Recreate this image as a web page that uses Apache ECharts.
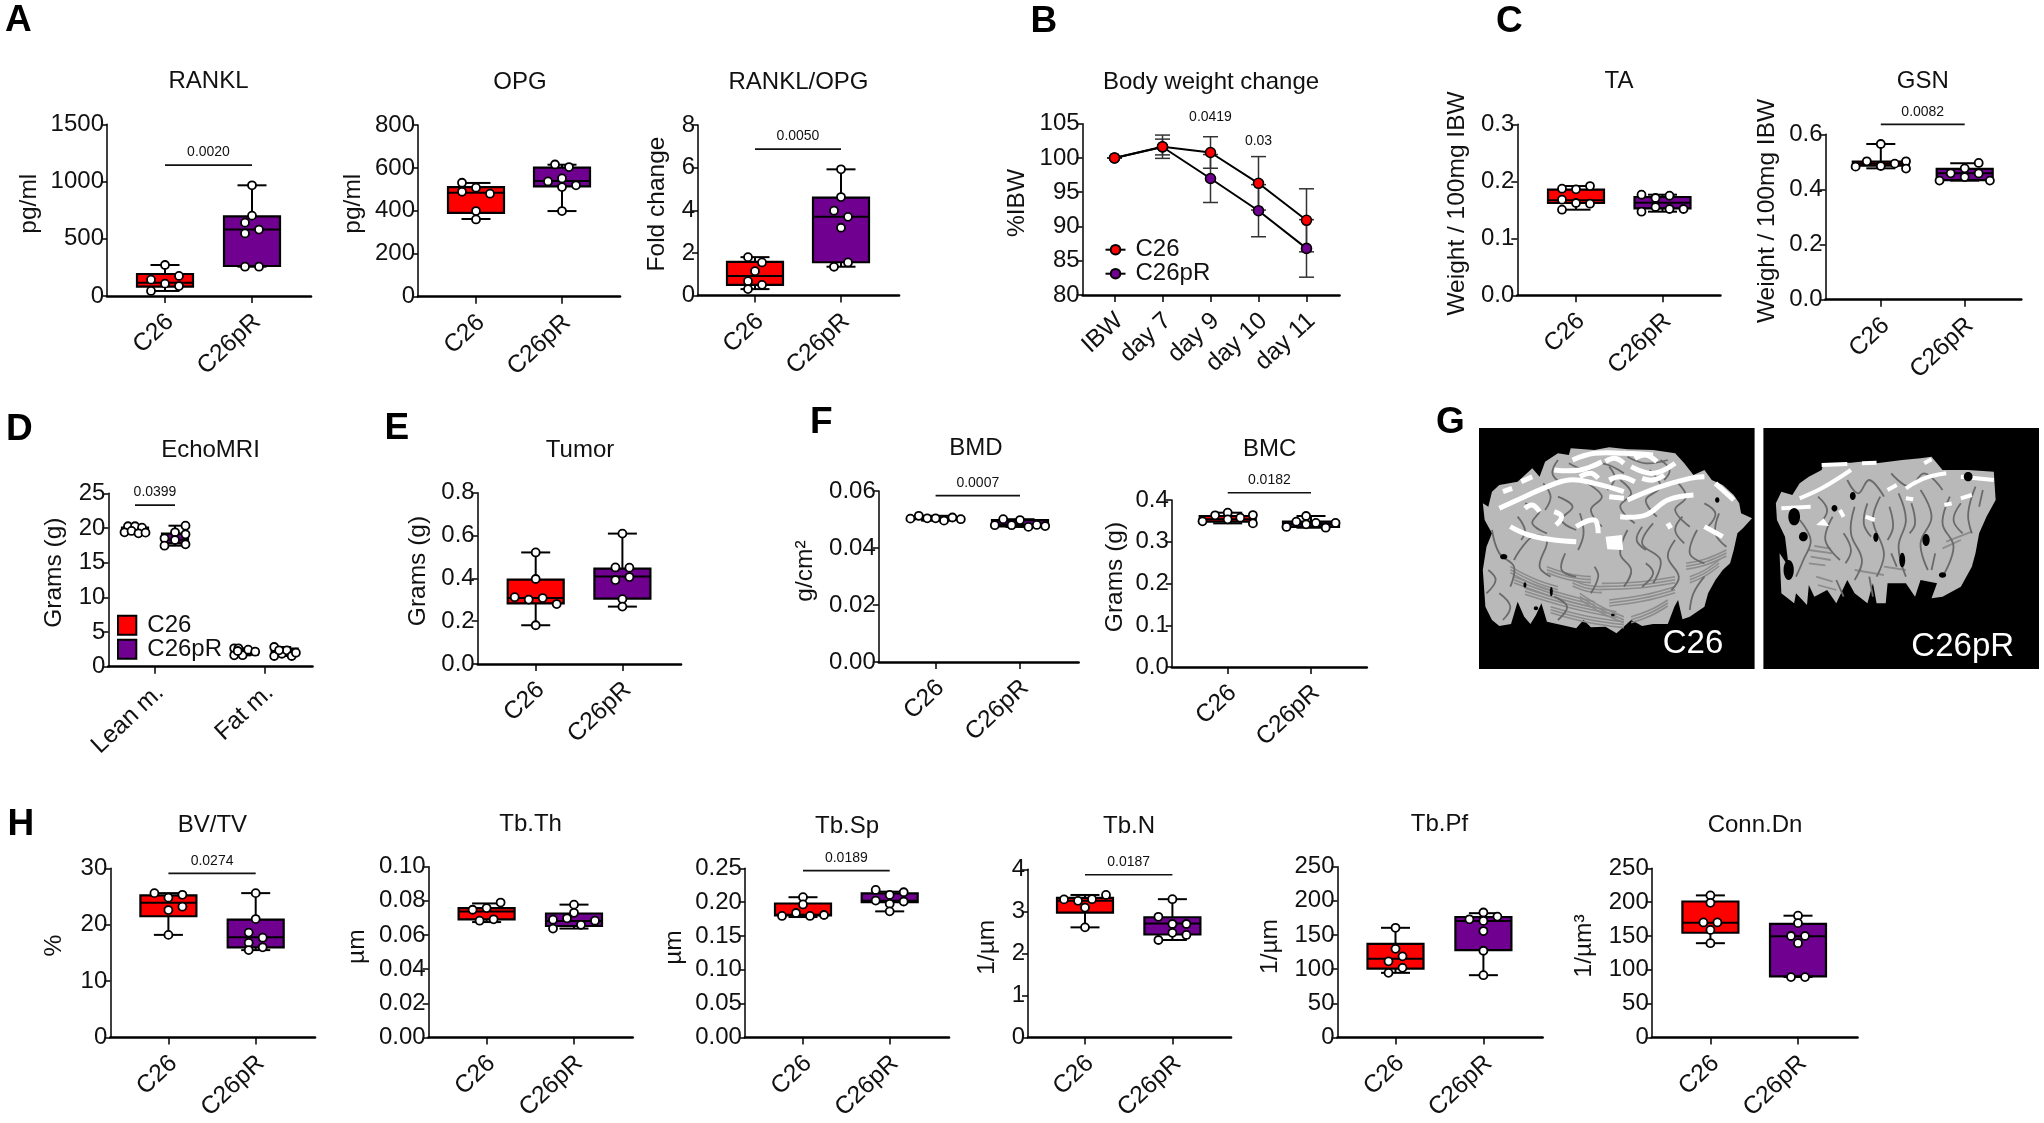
<!DOCTYPE html>
<html><head><meta charset="utf-8">
<style>html,body{margin:0;padding:0;background:#fff}#c{width:2044px;height:1123px}</style>
<script src="https://cdn.jsdelivr.net/npm/echarts@6/dist/echarts.min.js"></script>
</head><body><div id="c"></div>
<script>
// ---------- values ----------
const groups = ['C26', 'C26pR'];
const days = ['IBW', 'day 7', 'day 9', 'day 10', 'day 11'];
const tissue = ['Lean m.', 'Fat m.'];

// box = [whisker low, Q1, median, Q3, whisker high]; steps = swarm offset of each dot
const rankl_c26 = [271,175,143,108,87,44], rankl_c26_steps = [0,2,-2,0,2,-2], rankl_c26_box = [44,82,116,192,271];
const rankl_pr = [967,702,641,580,547,256,256], rankl_pr_steps = [0,0,-1,1,-1,1,-1], rankl_pr_box = [256,262,582,696,967];
const opg_c26 = [531,508,489,480,399,360], opg_c26_steps = [-2,0,-2,2,0,0], opg_c26_box = [362,391,484,511,530];
const opg_pr = [616,604,551,537,519,511,399], opg_pr_steps = [-1,1,0,-2,2,0,0], opg_pr_box = [399,514,539,601,615];
const ratio_c26 = [1.80,1.55,1.14,0.67,0.50,0.30], ratio_c26_steps = [-1,1,0,-1,1,-1], ratio_c26_box = [0.30,0.50,0.91,1.58,1.80];
const ratio_pr = [5.92,4.62,3.98,3.69,3.18,1.55,1.35], ratio_pr_steps = [0,0,-1,1,0,1,-1], ratio_pr_box = [1.35,1.56,3.69,4.59,5.92];

const bw_c26 = [100,101.64,100.8,96.3,90.9], bw_c26_err = [0,1.7,2.3,3.9,4.6];
const bw_pr = [100,101.6,97.0,92.3,86.8], bw_pr_err = [0,1.15,3.5,3.8,4.2];

const ta_c26 = [0.187,0.186,0.1917,0.1677,0.1619,0.1607,0.1502], ta_c26_steps = [-2,0,2,-2,0,2,-2], ta_c26_box = [0.1502,0.1619,0.1666,0.1853,0.1917];
const ta_pr = [0.1765,0.1707,0.1747,0.1549,0.1514,0.1514,0.1467], ta_pr_steps = [-3,-1,1,-1,1,3,-3], ta_pr_box = [0.1467,0.1526,0.1625,0.1725,0.1765];
const gsn_c26 = [0.5648,0.502,0.4935,0.502,0.4755,0.485,0.4827], gsn_c26_steps = [0,-2,2,3.6,3.6,0,-3.6], gsn_c26_box = [0.4765,0.4865,0.4935,0.501,0.5648];
const gsn_pr = [0.496,0.4765,0.4585,0.458,0.445,0.432,0.432], gsn_pr_steps = [2,0,-2,2,0,-3.6,3.6], gsn_pr_box = [0.432,0.4335,0.459,0.4745,0.495];

const lean_c26 = [20.25,20.25,20.05,19.38,19.57,19.23,19.33], lean_c26_steps = [-1,0,1,-1.5,-0.5,0.5,1.5], lean_c26_box = [19.23,19.33,19.57,20.05,20.25];
const lean_pr = [20.33,19.38,19.09,18.51,18.27,17.65,17.45], lean_pr_steps = [1.5,0,1.5,-1.5,0,1.5,-1.5], lean_pr_box = [17.45,17.79,18.31,19.18,20.33];
const fat_c26 = [2.65,1.64,2.65,1.66,2.45,2.16,2.26], fat_c26_steps = [-1.5,-1.5,-0.9,-0.3,0.5,1.5,-1], fat_c26_box = [1.64,1.75,2.2,2.55,2.65];
const fat_pr = [2.84,1.54,1.87,2.36,1.54,2.02,2.36], fat_pr_steps = [-1.5,-1.5,-0.4,0.3,1,1.6,-0.8], fat_pr_box = [1.54,1.8,2.2,2.6,2.84];

const tumor_c26 = [0.521,0.397,0.312,0.301,0.308,0.280,0.181], tumor_c26_steps = [0,0,-3,-1,1,3,0], tumor_c26_box = [0.181,0.283,0.308,0.394,0.521];
const tumor_pr = [0.609,0.451,0.450,0.406,0.392,0.303,0.268], tumor_pr_steps = [0,-1,1,1,-1,0,0], tumor_pr_box = [0.268,0.305,0.409,0.445,0.609];
const bmd_c26 = [0.0503,0.0513,0.0504,0.0504,0.0496,0.0507,0.0501], bmd_c26_steps = [-3.6,-2.4,-1.2,0,1.2,2.4,3.6], bmd_c26_box = [0.0496,0.0501,0.0504,0.0507,0.0513];
const bmd_pr = [0.048,0.0501,0.048,0.0498,0.0474,0.0481,0.0477], bmd_pr_steps = [-3.6,-2.4,-1.2,0,1.2,2.4,3.6], bmd_pr_box = [0.0474,0.0476,0.0482,0.0498,0.0501];
const bmc_c26 = [0.349,0.3633,0.3696,0.3537,0.3576,0.364,0.344], bmc_c26_steps = [-3.6,-1.8,0,0,1.8,3.6,3.6], bmc_c26_box = [0.344,0.348,0.3537,0.3617,0.3696];
const bmc_pr = [0.3617,0.348,0.345,0.3417,0.345,0.3354,0.3336], bmc_pr_steps = [-0.7,-2.1,0.7,-0.7,3.5,-3.5,2.1], bmc_pr_box = [0.3336,0.3354,0.3425,0.348,0.3617];

const bvtv_c26 = [25.6,25.3,24.8,23.2,22.6,18.2], bvtv_c26_steps = [-2,2,0,2,0,0], bvtv_c26_box = [18.2,21.5,23.9,25.2,25.6];
const bvtv_pr = [25.6,21,18.6,17.7,16.8,16,15.5], bvtv_pr_steps = [0,0,-1,1,-1,1,-1], bvtv_pr_box = [15.5,16,17.8,20.9,25.6];
const tbth_c26 = [0.0790,0.0758,0.0748,0.0692,0.0684], tbth_c26_steps = [2,0,-2,1,-1], tbth_c26_box = [0.0676,0.0692,0.0738,0.0757,0.0785];
const tbth_pr = [0.0778,0.073,0.069,0.0698,0.0638,0.0684,0.066], tbth_pr_steps = [0,0,-3,-1,-3,3,1], tbth_pr_box = [0.0638,0.0653,0.0682,0.0726,0.0778];
const tbsp_c26 = [0.2073,0.1966,0.184,0.1796,0.1796,0.181], tbsp_c26_steps = [0,0,-1,-3,1,3], tbsp_c26_box = [0.178,0.1806,0.1815,0.198,0.2073];
const tbsp_pr = [0.218,0.2146,0.2107,0.2024,0.201,0.1976,0.1864], tbsp_pr_steps = [-2,2,0,-2,2,0,0], tbsp_pr_box = [0.1864,0.2,0.202,0.2131,0.2155];
const tbn_c26 = [3.39,3.285,3.25,3.29,3.09,2.62], tbn_c26_steps = [3,-3,-1,1,0,0], tbn_c26_box = [2.62,2.97,3.25,3.32,3.39];
const tbn_pr = [3.29,2.87,2.70,2.70,2.49,2.44,2.32], tbn_pr_steps = [0,-2,0,2,0,2,-2], tbn_pr_box = [2.32,2.45,2.71,2.86,3.29];
const tbpf_c26 = [160.6,129.8,118.8,111.5,102,94.7], tbpf_c26_steps = [0,0,1,-1,1,-1], tbpf_c26_box = [94.7,101,115.4,137,160.6];
const tbpf_pr = [183,173,177,170.7,155.8,127,91.3], tbpf_pr_steps = [0,-2,2,0,0,0,0], tbpf_pr_box = [91.3,128,170.7,176.4,182];
const conn_c26 = [210,199,170,170,159,139.4], conn_c26_steps = [0,0,-1,1,0,0], conn_c26_box = [139.4,154.8,169.7,201,210];
const conn_pr = [180,169,150,150,139.4,89.4,89.4], conn_pr_steps = [0,0,-1,1,0,-1,1], conn_pr_box = [89.4,90.4,149.5,168,180];

// ---------- page geometry of every panel ----------
const geo = {
  rankl:{x:107,top:123.3,y0:295,ext:311,t1:165,t2:252,tx:208.5,ty:79,nx:28.7,ny:202.7},
  opg:{x:418,top:124,y0:295.7,ext:620,t1:476,t2:562,tx:520,ty:80,nx:352.7,ny:202.7},
  ratio:{x:698,top:124,y0:294.5,ext:899,t1:755,t2:841,tx:798.5,ty:80,nx:657,ny:203},
  bw:{x:1082.6,top:122.7,y0:294,ext:1339.5,t1:1114.5,t2:1162.5,tx:1211,ty:80,nx:1016.6,ny:202},
  ta:{x:1517.3,top:123.3,y0:294.3,ext:1720.4,t1:1576,t2:1662.5,tx:1619,ty:79,nx:1457,ny:202.5},
  gsn:{x:1825.6,top:133.3,y0:298.7,ext:2021.3,t1:1880.8,t2:1964.7,tx:1922.8,ty:79,nx:1767,ny:210},
  echo:{x:108.4,top:492.3,y0:665.7,ext:312.5,t1:155,t2:264.7,tx:210.5,ty:447.7,nx:54,ny:571.7},
  tumor:{x:477.7,top:491.7,y0:663,ext:681,t1:535.7,t2:622.4,tx:580,ty:447.7,nx:418,ny:570},
  bmd:{x:878.8,top:490,y0:661,ext:1078.6,t1:935.6,t2:1020,tx:976,ty:446,nx:805,ny:570},
  bmc:{x:1171.8,top:499,y0:666,ext:1366.8,t1:1227.7,t2:1311,tx:1269.6,ty:446.7,nx:1114.5,ny:576},
  bvtv:{x:110.3,top:867.3,y0:1040.7,ext:315,t1:168.4,t2:255.7,tx:212.4,ty:822.7,nx:54,ny:946.7},
  tbth:{x:428.6,top:865.7,y0:1038.7,ext:632.7,t1:486.6,t2:574,tx:530.6,ty:822,nx:357,ny:946.7},
  tbsp:{x:744.9,top:867.3,y0:1039,ext:949,t1:803,t2:889.7,tx:847,ty:824,nx:674,ny:947.7},
  tbn:{x:1028,top:868.3,y0:1040,ext:1231,t1:1085,t2:1172.4,tx:1129,ty:824,nx:987,ny:948},
  tbpf:{x:1337.5,top:865.7,y0:1039,ext:1542.6,t1:1395.5,t2:1483.4,tx:1439.4,ty:822,nx:1269.6,ny:946.7},
  conn:{x:1651.8,top:867.3,y0:1040.7,ext:1857.5,t1:1710.4,t2:1798,tx:1755,ty:823,nx:1584,ny:947}
};

const RED = '#ff0000', PURPLE = '#70008f', FONT = '"Liberation Sans", Arial, sans-serif';
const STEP_PX = 7, BOX_W = 56, CAP_W = 29, SHIFT = 1;
const option = {
  animation:false, backgroundColor:'#fff', textStyle:{fontFamily:FONT,color:'#000'},
  title:[], grid:[], xAxis:[], yAxis:[], series:[], legend:[], graphic:{elements:[]}
};

function addAxes(g, cfg){
  const i = option.grid.length, u = g.t2 - g.t1;
  const base = cfg.base;
  option.grid.push({left:g.x, top:g.top+SHIFT, width:g.ext-g.x, height:g.y0-g.top});
  option.title.push({text:cfg.title,left:g.tx,top:g.ty+2.5,textAlign:'center',textVerticalAlign:'middle',padding:0,
    textStyle:{fontFamily:FONT,fontSize:24,fontWeight:'normal',color:'#111'}});
  option.xAxis.push({gridIndex:i,type:'value',min:base-(g.t1-g.x)/u,max:base+cfg.labels.length-1+(g.ext-g.t1-(cfg.labels.length-1)*u)/u,
    splitLine:{show:false},
    axisLine:{onZero:false,lineStyle:{color:'#000',width:2.6}},
    axisTick:{length:7,lineStyle:{color:'#000',width:1.5},customValues:cfg.labels.map((_,k)=>base+k)},
    axisLabel:{customValues:cfg.labels.map((_,k)=>base+k),rotate:43,margin:cfg.labelMargin||27,padding:[0,-7,0,0],fontSize:24.5,fontFamily:FONT,color:'#111',
      formatter:v=>cfg.labels[Math.round(v-base)]}});
  const up = (g.top+g.y0)/2 - g.ny;
  option.yAxis.push({gridIndex:i,type:'value',min:cfg.min||0,max:cfg.max,interval:cfg.step,
    name:cfg.yName,nameLocation:'middle',nameGap:(g.x-g.nx)-13,
    nameTextStyle:{fontFamily:FONT,fontSize:24.5,color:'#111',padding:up>0?[0,0,0,2*up]:[0,-2*up,0,0]},
    splitLine:{show:false},
    axisLine:{onZero:false,lineStyle:{color:'#000',width:1.5}},
    axisTick:{length:6,lineStyle:{color:'#000',width:1.5}},
    axisLabel:{margin:3,fontSize:24,fontFamily:FONT,color:'#111',formatter:v=>v.toFixed(cfg.dec||0)}});
  return i;
}
function boxRender(boxW,capW,color){
  return function(params,api){
    const x=api.value(0), c=k=>api.coord([x,api.value(k)]);
    const lo=c(1),q1=c(2),me=c(3),q3=c(4),hi=c(5), px=lo[0];
    const st={stroke:'#000',lineWidth:2,fill:null};
    const ln=(a,b,y1,y2)=>({type:'line',shape:{x1:a,y1:y1,x2:b,y2:y2},style:st});
    return {type:'group',children:[
      ln(px,px,hi[1],lo[1]),
      ln(px-capW/2,px+capW/2,hi[1],hi[1]),
      ln(px-capW/2,px+capW/2,lo[1],lo[1]),
      {type:'rect',shape:{x:px-boxW/2,y:q3[1],width:boxW,height:q1[1]-q3[1]},style:{fill:color,stroke:'#000',lineWidth:2.2}},
      ln(px-boxW/2,px+boxW/2,me[1],me[1])
    ]};
  };
}
function addGroup(i,name,color,xPos,vals,steps,box,stepU,boxW,capW){
  option.series.push({type:'custom',name:name,xAxisIndex:i,yAxisIndex:i,z:3,
    itemStyle:{color:color,borderColor:'#000',borderWidth:2},
    renderItem:boxRender(boxW,capW,color),
    encode:{x:0,y:[1,2,3,4,5]},
    data:[[xPos].concat(box)]});
  option.series.push({type:'scatter',name:name+' points',xAxisIndex:i,yAxisIndex:i,z:5,symbol:'circle',symbolSize:8,
    itemStyle:{color:'#fff',borderColor:'#000',borderWidth:1.8,opacity:1},
    data:vals.map((v,k)=>[xPos+steps[k]*stepU,v])});
}
function addPvalue(i,x1,x2,yv,text){
  option.series.push({type:'custom',name:'p '+text,xAxisIndex:i,yAxisIndex:i,z:6,
    renderItem:function(p,api){
      const a=api.coord([api.value(0),api.value(2)]), b=api.coord([api.value(1),api.value(2)]);
      const kids=[];
      if(x1!==x2) kids.push({type:'line',shape:{x1:a[0],y1:a[1],x2:b[0],y2:b[1]},style:{stroke:'#111',lineWidth:1.7,fill:null}});
      kids.push({type:'text',style:{text:text,x:(a[0]+b[0])/2,y:x1!==x2?a[1]-12.7:a[1],align:'center',verticalAlign:'middle',
        font:'14px '+FONT,fill:'#111'}});
      return {type:'group',children:kids};
    },
    encode:{x:[0,1],y:2},
    data:[[x1,x2,yv]]});
}
function addBoxPanel(key,cfg){
  const g=geo[key];
  const i=addAxes(g,Object.assign({base:1,labels:groups},cfg));
  const u=STEP_PX/(g.t2-g.t1);
  addGroup(i,cfg.title+' C26',RED,1,cfg.a[0],cfg.a[1],cfg.a[2],u,BOX_W,CAP_W);
  addGroup(i,cfg.title+' C26pR',PURPLE,2,cfg.b[0],cfg.b[1],cfg.b[2],u,BOX_W,CAP_W);
  if(cfg.p) addPvalue(i,1,2,cfg.p[0],cfg.p[1]);
}

// Panel B: line chart with error bars
(function(){
  const g=geo.bw;
  const i=addAxes(g,{base:0,labels:days,title:'Body weight change',max:105,min:80,step:5,yName:'%IBW'});
  [[bw_c26,bw_c26_err,RED,'C26',5],[bw_pr,bw_pr_err,PURPLE,'C26pR',4]].forEach(function(s){
    option.series.push({type:'custom',name:s[3]+' SD',xAxisIndex:i,yAxisIndex:i,z:3,
      renderItem:function(p,api){
        const x=api.value(0),m=api.coord([x,api.value(1)]),hi=api.coord([x,api.value(1)+api.value(2)]),lo=api.coord([x,api.value(1)-api.value(2)]);
        const st={stroke:'#333',lineWidth:1.5,fill:null},c=7.5;
        return {type:'group',children:[
          {type:'line',shape:{x1:m[0],y1:hi[1],x2:m[0],y2:lo[1]},style:st},
          {type:'line',shape:{x1:m[0]-c,y1:hi[1],x2:m[0]+c,y2:hi[1]},style:st},
          {type:'line',shape:{x1:m[0]-c,y1:lo[1],x2:m[0]+c,y2:lo[1]},style:st}]};
      },
      encode:{x:0,y:1},
      data:s[0].map((v,k)=>[k,v,s[1][k]])});
    option.series.push({type:'line',name:s[3],xAxisIndex:i,yAxisIndex:i,z:s[4],symbol:'circle',symbolSize:10,
      lineStyle:{color:'#000',width:2},itemStyle:{color:s[2],borderColor:'#000',borderWidth:1.6},
      data:s[0].map((v,k)=>[k,v])});
  });
  addPvalue(i,2,2,106,'0.0419');
  addPvalue(i,3,3,102.5,'0.03');
  option.legend.push({data:['C26','C26pR'],left:1104.5,top:237.7,orient:'vertical',itemWidth:20,itemHeight:12,itemGap:0,padding:0,selectedMode:false,
    textStyle:{fontFamily:FONT,fontSize:24,color:'#111',lineHeight:24,padding:[0,0,0,5]}});
})();

addBoxPanel('rankl',{title:'RANKL',max:1500,step:500,yName:'pg/ml',a:[rankl_c26,rankl_c26_steps,rankl_c26_box],b:[rankl_pr,rankl_pr_steps,rankl_pr_box],p:[1144,'0.0020']});
addBoxPanel('opg',{title:'OPG',max:800,step:200,yName:'pg/ml',a:[opg_c26,opg_c26_steps,opg_c26_box],b:[opg_pr,opg_pr_steps,opg_pr_box]});
addBoxPanel('ratio',{title:'RANKL/OPG',max:8,step:2,yName:'Fold change',a:[ratio_c26,ratio_c26_steps,ratio_c26_box],b:[ratio_pr,ratio_pr_steps,ratio_pr_box],p:[6.87,'0.0050']});
addBoxPanel('ta',{title:'TA',max:0.3,step:0.1,dec:1,yName:'Weight / 100mg IBW',a:[ta_c26,ta_c26_steps,ta_c26_box],b:[ta_pr,ta_pr_steps,ta_pr_box]});
addBoxPanel('gsn',{title:'GSN',max:0.6,step:0.2,dec:1,yName:'Weight / 100mg IBW',a:[gsn_c26,gsn_c26_steps,gsn_c26_box],b:[gsn_pr,gsn_pr_steps,gsn_pr_box],p:[0.636,'0.0082']});

// Panel D: two tissues, two groups each
(function(){
  const g=geo.echo;
  const i=addAxes(g,{base:1,labels:tissue,title:'EchoMRI',max:25,step:5,yName:'Grams (g)'});
  const unit=g.t2-g.t1,u=STEP_PX/unit,off=20/unit;
  [[1-off,'EchoMRI C26',RED,lean_c26,lean_c26_steps,lean_c26_box],
   [1+off,'EchoMRI C26pR',PURPLE,lean_pr,lean_pr_steps,lean_pr_box],
   [2-off,'EchoMRI C26',RED,fat_c26,fat_c26_steps,fat_c26_box],
   [2+off,'EchoMRI C26pR',PURPLE,fat_pr,fat_pr_steps,fat_pr_box]].forEach(function(s){
     addGroup(i,s[1],s[2],s[0],s[3],s[4],s[5],u,26,13);
  });
  addPvalue(i,1-off,1+off,23.3,'0.0399');
  option.legend.push({data:['EchoMRI C26','EchoMRI C26pR'],left:117,top:613.3,orient:'vertical',icon:'rect',itemWidth:18.3,itemHeight:19,itemGap:0,padding:0,selectedMode:false,
    formatter:n=>n.replace('EchoMRI ',''),
    textStyle:{fontFamily:FONT,fontSize:24,color:'#111',lineHeight:23.3,padding:[0,0,0,6]}});
})();

addBoxPanel('tumor',{title:'Tumor',max:0.8,step:0.2,dec:1,yName:'Grams (g)',a:[tumor_c26,tumor_c26_steps,tumor_c26_box],b:[tumor_pr,tumor_pr_steps,tumor_pr_box]});
addBoxPanel('bmd',{title:'BMD',max:0.06,step:0.02,dec:2,yName:'g/cm²',a:[bmd_c26,bmd_c26_steps,bmd_c26_box],b:[bmd_pr,bmd_pr_steps,bmd_pr_box],p:[0.0584,'0.0007']});
addBoxPanel('bmc',{title:'BMC',max:0.4,step:0.1,dec:1,yName:'Grams (g)',a:[bmc_c26,bmc_c26_steps,bmc_c26_box],b:[bmc_pr,bmc_pr_steps,bmc_pr_box],p:[0.4174,'0.0182']});
addBoxPanel('bvtv',{title:'BV/TV',max:30,step:10,yName:'%',a:[bvtv_c26,bvtv_c26_steps,bvtv_c26_box],b:[bvtv_pr,bvtv_pr_steps,bvtv_pr_box],p:[29.1,'0.0274']});
addBoxPanel('tbth',{title:'Tb.Th',max:0.1,step:0.02,dec:2,yName:'µm',a:[tbth_c26,tbth_c26_steps,tbth_c26_box],b:[tbth_pr,tbth_pr_steps,tbth_pr_box]});
addBoxPanel('tbsp',{title:'Tb.Sp',max:0.25,step:0.05,dec:2,yName:'µm',a:[tbsp_c26,tbsp_c26_steps,tbsp_c26_box],b:[tbsp_pr,tbsp_pr_steps,tbsp_pr_box],p:[0.2466,'0.0189']});
addBoxPanel('tbn',{title:'Tb.N',max:4,step:1,yName:'1/µm',a:[tbn_c26,tbn_c26_steps,tbn_c26_box],b:[tbn_pr,tbn_pr_steps,tbn_pr_box],p:[3.87,'0.0187']});
addBoxPanel('tbpf',{title:'Tb.Pf',max:250,step:50,yName:'1/µm',a:[tbpf_c26,tbpf_c26_steps,tbpf_c26_box],b:[tbpf_pr,tbpf_pr_steps,tbpf_pr_box]});
addBoxPanel('conn',{title:'Conn.Dn',max:250,step:50,yName:'1/µm³',a:[conn_c26,conn_c26_steps,conn_c26_box],b:[conn_pr,conn_pr_steps,conn_pr_box]});

// Panel letters
[['A',5,21],['B',1030.6,22],['C',1496,22],['D',6,430],['E',384.6,428.7],['F',810,422.7],['G',1436,422.7],['H',7.6,824.7]].forEach(function(t){
  option.title.push({text:t[0],left:t[1],top:t[2],textVerticalAlign:'middle',padding:0,
    textStyle:{fontFamily:FONT,fontSize:37,fontWeight:'bold',color:'#000'}});
});

// Panel G: micro-CT renderings, sketched
const mapX=x=>1470+x/2.73, mapY=y=>420+y/3, mp=a=>a.map(p=>[mapX(p[0]),mapY(p[1])]);
const E=option.graphic.elements;
function poly(pts,fill,z){E.push({type:'polygon',silent:true,z:z||1,shape:{points:mp(pts)},style:{fill:fill}});}
function wig(pts,color,w,z){E.push({type:'polyline',silent:true,z:z||2,shape:{points:mp(pts),smooth:0.4},style:{stroke:color,lineWidth:w,fill:null}});}
function hole(x,y,rx,ry,c){E.push({type:'ellipse',silent:true,z:4,shape:{cx:mapX(x),cy:mapY(y),rx:rx/2.73,ry:ry/3},style:{fill:c||'#000'}});}
E.push({type:'rect',silent:true,z:0,shape:{x:1479,y:428,width:275.6,height:241},style:{fill:'#000'}});
E.push({type:'rect',silent:true,z:0,shape:{x:1763.4,y:428,width:275.6,height:241},style:{fill:'#000'}});
poly([[35,250],[50,260],[60,215],[80,195],[130,185],[170,145],[190,170],[205,125],[240,100],[270,105],[275,85],[340,90],[380,82],[430,88],[500,90],[560,100],[585,130],[610,165],[640,150],[660,180],[690,195],[720,225],[735,250],[740,280],[770,295],[745,325],[730,340],[720,390],[710,430],[690,450],[670,480],[650,520],[640,560],[600,590],[580,598],[568,540],[558,560],[540,612],[500,612],[470,618],[440,600],[400,640],[370,620],[330,622],[310,600],[290,625],[210,605],[195,550],[180,585],[165,612],[148,590],[130,545],[112,612],[80,618],[60,600],[42,560],[35,450],[45,380],[60,340],[40,300]],'#b9b9b9');
// lower-body stripes
[[120,470,340,545],[150,505,400,575],[210,440,330,470],[220,560,420,605],[360,490,560,470],[380,540,560,500],[440,590,540,540],[590,430,700,390],[600,470,680,420],[110,440,240,500],[300,520,420,590],[280,480,360,500]].forEach(function(l){
  [0,9,18].forEach(function(d){wig([[l[0],l[1]+d],[(l[0]+l[2])/2,(l[1]+l[3])/2+d+6],[l[2],l[3]+d]],'#8c8c8c',1.6,2);});
});
// dark creases, C26
[[[60,330],[80,400],[120,440],[110,500]],[[120,420],[170,350],[210,360],[190,440],[220,470]],[[260,400],[250,450],[290,470]],[[340,440],[350,470],[330,520]],[[430,330],[410,400],[440,450],[420,500]],[[500,310],[470,370],[520,420],[500,490]],[[560,360],[540,410],[570,470],[550,510]],[[620,330],[600,400],[640,430]],[[680,280],[670,340],[700,380]],
 [[150,250],[190,270],[170,310],[210,340]],[[240,230],[280,260],[250,300],[290,330]],[[320,190],[360,230],[330,270],[360,320]],[[410,180],[440,220],[410,260],[450,310]],[[490,150],[520,200],[480,240],[510,290]],[[560,180],[590,230],[560,270],[600,320]],[[270,130],[320,150],[360,130],[420,160]],[[430,110],[480,130],[540,120]],[[640,250],[670,280],[650,320]],[[80,520],[110,560],[90,600]],[[640,470],[610,520],[600,570]],
 [[130,290],[150,330],[140,360]],[[200,190],[220,230],[205,270]],[[300,280],[310,340],[295,390]],[[470,320],[455,360],[480,390]],[[580,290],[560,330],[585,370]],[[240,120],[225,160],[250,190]],[[380,140],[395,175],[375,210]],[[520,120],[545,150],[530,180]],[[50,450],[70,480],[45,520]],[[230,530],[265,560],[240,600]],[[480,430],[500,460],[470,500]]].forEach(p=>wig(p,'#6a6a6a',1.8));
// white top surface, C26
[[[80,265],[140,235],[200,205],[270,180],[340,190],[420,215]],[[110,320],[160,345],[230,360],[290,365]],[[430,240],[520,200],[600,175],[640,170]],[[410,290],[480,285],[540,240],[610,225]],[[280,120],[340,100],[420,100],[500,105]],[[230,150],[300,150],[360,125]],[[440,140],[500,160],[560,130]],[[290,320],[340,300],[350,340]],[[640,320],[690,350]],[[140,185],[170,170]],[[670,190],[720,240]],
 [[370,125],[395,115],[420,130]],[[450,115],[480,105],[510,125]],[[300,170],[330,160],[350,175]],[[380,180],[410,170],[450,185]],[[470,175],[500,180],[530,165]],[[150,265],[170,255],[190,275]],[[230,275],[250,290],[235,315]],[[90,215],[115,205]],[[380,230],[420,235]],[[540,310],[548,325]]].forEach(p=>wig(p,'#fff',5,3));
poly([[370,350],[415,345],[418,390],[375,388]],'#fff',3);
[[92,410,10,8],[222,515,4,14],[675,240,6,8],[150,495,4,8],[180,565,6,6],[390,585,5,4]].forEach(h=>hole(h[0],h[1],h[2],h[3]));
// C26pR
poly([[835,250],[850,215],[880,225],[900,190],[925,170],[960,150],[965,130],[1040,128],[1065,125],[1110,130],[1180,120],[1230,115],[1260,110],[1290,150],[1360,150],[1430,155],[1435,240],[1410,290],[1390,340],[1380,400],[1370,440],[1340,500],[1290,530],[1260,535],[1275,490],[1230,480],[1215,530],[1190,490],[1140,490],[1135,550],[1110,550],[1100,490],[1085,550],[1050,520],[1030,480],[1000,550],[975,510],[940,530],[925,495],[920,555],[890,520],[885,550],[850,520],[845,400],[870,440],[860,350],[838,300]],'#b9b9b9');
[[925,390,990,400],[930,410,985,420],[925,430,970,436],[1290,385,1340,360],[1300,365,1370,335],[950,495,1000,510],[1050,450,1130,465],[1130,440,1190,450],[940,378,985,386],[945,470,990,485]].forEach(function(l){wig([[l[0],l[1]],[l[2],l[3]]],'#8c8c8c',1.8,2);});
[[[900,300],[930,360],[910,420],[890,470]],[[990,290],[970,360],[1010,420]],[[1050,260],[1040,340],[1070,420],[1050,480]],[[1120,230],[1100,300],[1130,400],[1110,470]],[[1170,220],[1190,300],[1170,380],[1190,470]],[[1230,210],[1260,290],[1230,370],[1250,450]],[[1310,230],[1290,310],[1320,380],[1290,470]],[[1380,200],[1360,280],[1370,340]],[[1030,180],[1060,220],[1090,180],[1130,230]],[[1150,160],[1200,200],[1240,160],[1290,210]],[[1000,480],[1020,530]],[[1090,470],[1100,530]],
 [[950,230],[975,270],[955,310]],[[1085,250],[1075,310],[1095,350]],[[1145,260],[1155,320],[1140,360]],[[1205,250],[1215,310],[1200,340]],[[1340,250],[1320,300],[1345,340]],[[1020,340],[1040,390],[1025,430]],[[1150,400],[1165,440]],[[1270,400],[1260,450]],[[1400,210],[1390,260]]].forEach(p=>wig(p,'#6a6a6a',1.8));
[[[900,235],[960,205],[1040,150]],[[1190,205],[1240,175],[1300,160]],[[1340,235],[1370,225]],[[1340,170],[1430,180]],[[850,265],[930,260]],[[1240,130],[1260,118]],[[1070,130],[1110,128]],[[960,135],[1030,132]],[[1140,210],[1165,195]],[[1080,290],[1105,300]],[[1190,235],[1210,238]],[[1295,255],[1315,250]],[[1010,270],[1020,290]]].forEach(p=>wig(p,'#fff',4,3));
poly([[945,315],[965,295],[980,318]],'#fff',3);
[[1245,360,10,18],[1108,352,7,14],[1180,420,8,22],[910,350,12,14],[995,265,8,10],[1045,228,8,12],[1360,170,12,14],[885,290,16,26],[870,450,14,30],[1290,465,10,8],[1225,520,4,12]].forEach(h=>hole(h[0],h[1],h[2],h[3]));
[['C26',1693,644],['C26pR',1962.7,646.7]].forEach(function(t){
  E.push({type:'text',silent:true,z:6,x:t[1],y:t[2],style:{text:t[0],align:'center',verticalAlign:'middle',font:'33px '+FONT,fill:'#fff'}});
});

echarts.init(document.getElementById('c'),null,{renderer:'canvas'}).setOption(option);
</script></body></html>
